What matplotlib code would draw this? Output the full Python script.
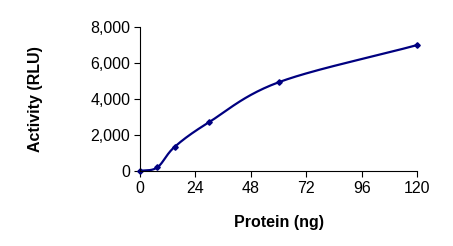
import numpy as np
from matplotlib import pyplot as plt
from matplotlib.ticker import FuncFormatter

protein = [0, 7.5, 15, 30, 60, 120]
activity = [0, 200, 1340, 2720, 4930, 7000]
x_ticks = [0, 24, 48, 72, 96, 120]
y_ticks = [0, 2000, 4000, 6000, 8000]

navy = "#000080"

def smooth(xs, ys, n=40):
    # Catmull-Rom through the points, like Excel's smoothed line
    xs = np.asarray(xs, float)
    ys = np.asarray(ys, float)
    px = np.concatenate([[2 * xs[0] - xs[1]], xs, [2 * xs[-1] - xs[-2]]])
    py = np.concatenate([[2 * ys[0] - ys[1]], ys, [2 * ys[-1] - ys[-2]]])
    outx, outy = [], []
    t = np.linspace(0, 1, n)
    for i in range(1, len(px) - 2):
        for p, out in ((px, outx), (py, outy)):
            p0, p1, p2, p3 = p[i - 1], p[i], p[i + 1], p[i + 2]
            out.extend(0.5 * ((2 * p1) + (-p0 + p2) * t
                              + (2 * p0 - 5 * p1 + 4 * p2 - p3) * t ** 2
                              + (-p0 + 3 * p1 - 3 * p2 + p3) * t ** 3))
    return outx, outy

plt.rcParams['font.family'] = ['Liberation Sans', 'DejaVu Sans']
fig = plt.figure(figsize=(4.53, 2.46), dpi=100)
ax = fig.add_axes([0.309, 0.305, 0.612, 0.585])

sx, sy = smooth(protein, activity)
ax.plot(sx, sy, color=navy, lw=1.6, clip_on=False)
ax.plot(protein, activity, ls="none", marker="D", ms=2.8, color=navy, clip_on=False)

ax.set_xlim(0, 120)
ax.set_ylim(0, 8000)
ax.set_xticks(x_ticks)
ax.set_yticks(y_ticks)
ax.yaxis.set_major_formatter(FuncFormatter(lambda v, p: f"{int(v):,}"))
ax.spines["top"].set_visible(False)
ax.spines["right"].set_visible(False)
ax.tick_params(direction="out", length=4, labelsize=11.5, width=0.8, pad=3)
ax.set_xlabel("Protein (ng)", fontsize=11.5, fontweight="bold", labelpad=14)
ax.set_ylabel("Activity (RLU)", fontsize=11.5, fontweight="bold", labelpad=34)

fig.savefig("out.png", dpi=100)
